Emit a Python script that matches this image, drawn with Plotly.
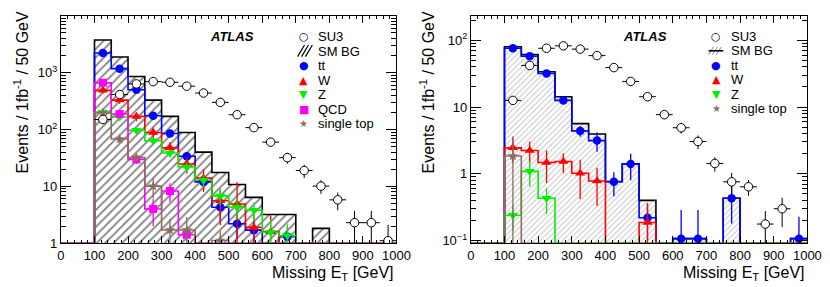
import numpy as np
import plotly.graph_objects as go

# ---------------- data (50 GeV bins, 0-1000 GeV) ----------------
bin_edges = list(range(0, 1001, 50))
x_ticks = list(range(0, 1001, 100))

# Left panel
left_smbg = [0, 0, 3750, 1890, 858, 329, 170, 88.5, 40, 17.6, 10.8, 6.4, 3.2, 3.2, 0, 1.83, 0, 0, 0, 0]
left_tt = [0, 0, 2210, 1175, 500, 175, 85, 33.8, 12, 4.3, 2.2, 1.7, 0, 1.3, 0, 0, 0, 0, 0, 0]
left_w = [0, 0, 488, 329, 170, 88.5, 47.6, 24.7, 14, 5.6, 4.9, 1.9, 1.6, 0, 0, 0, 0, 0, 0, 0]
left_z = [0, 0, 202, 166, 97, 63.5, 38.7, 22, 12.8, 6.8, 4.3, 3.8, 1.56, 1.35, 0, 0, 0, 0, 0, 0]
left_qcd = [0, 0, 661, 187, 29.7, 4.0, 8.3, 1.41, 0, 0, 0, 0, 0, 0, 0, 0, 0, 0, 0, 0]
left_st = [0, 0, 195, 68, 32, 10.1, 1.71, 1.71, 0, 1.12, 0, 0, 0, 0, 0, 0, 0, 0, 0, 0]
left_su3 = [0, 0, 150, 412, 634, 696, 677, 578, 438, 300, 182, 108, 60, 32, 19, 10.1, 5.8, 2.3, 2.3, 1.11]

left_tt_err = [0, 0, 45, 33, 22, 13, 9, 5.5, 3.3, 1.9, 1.0, 0.8, 0, 0.6, 0, 0, 0, 0, 0, 0]
left_w_err = [0, 0, 60, 45, 30, 20, 13, 8, 6, 3.5, 7, 1.5, 1.5, 0, 0, 0, 0, 0, 0, 0]
left_z_err = [0, 0, 14, 13, 10, 8, 6, 4.5, 3, 2.2, 1.7, 1.4, 1.0, 0.8, 0, 0, 0, 0, 0, 0]
left_qcd_err = [0, 0, 60, 28, 5, 2, 3, 0.5, 0, 0, 0, 0, 0, 0, 0, 0, 0, 0, 0, 0]
left_st_err = [0, 0, 20, 10, 5, 4, 1, 1.2, 0, 0.5, 0, 0, 0, 0, 0, 0, 0, 0, 0, 0]
left_su3_err = [0, 0, 11, 18, 22, 23, 23, 21, 19, 17, 15, 12, 9, 7, 5, 2.7, 2, 1.4, 1.4, 1.0]

# Right panel
right_smbg = [0, 0, 79.9, 61, 33.8, 14.3, 5.65, 3.95, 0.77, 1.42, 0.40, 0, 0.107, 0.107, 0, 0.43, 0, 0, 0, 0.107]
right_tt = [0, 0, 76, 57.7, 31.9, 12.6, 4.4, 3.15, 0.76, 1.4, 0.22, 0, 0.107, 0.107, 0, 0.43, 0, 0, 0, 0.107]
right_w = [0, 0, 2.45, 2.24, 1.48, 1.53, 1.02, 0.78, 0, 0, 0.187, 0, 0, 0, 0, 0, 0, 0, 0, 0]
right_z = [0, 0, 0.24, 1.09, 0.43, 0, 0, 0, 0, 0, 0, 0, 0, 0, 0, 0, 0, 0, 0, 0]
right_st = [0, 0, 1.85, 0, 0, 0, 0, 0, 0, 0, 0, 0, 0, 0, 0, 0, 0, 0, 0, 0]
right_su3 = [0, 0, 12.6, 42, 76, 82.6, 73.8, 59, 39, 24.2, 14.3, 7.7, 4.9, 3.05, 1.43, 0.76, 0.64, 0.177, 0.30, 0]

right_tt_err = [0, 0, 3.5, 3, 2.2, 1.4, 0.8, 1.0, 0.3, 0.6, 0.12, 0, 0.18, 0.18, 0, 0.25, 0, 0, 0, 0.12]
right_w_err = [0, 0, 1.0, 0.8, 0.75, 0.5, 0.6, 0.45, 0, 0, 0.18, 0, 0, 0, 0, 0, 0, 0, 0, 0]
right_z_err = [0, 0, 0.1, 0.45, 0.18, 0, 0, 0, 0, 0, 0, 0, 0, 0, 0, 0, 0, 0, 0, 0]
right_st_err = [0, 0, 1.8, 0, 0, 0, 0, 0, 0, 0, 0, 0, 0, 0, 0, 0, 0, 0, 0, 0]
right_su3_err = [0, 0, 1.5, 2.6, 3.5, 3.6, 3.4, 3.0, 2.5, 2.0, 1.5, 1.1, 0.9, 0.7, 0.35, 0.27, 0.17, 0.1, 0.14, 0]

left_ytickvals = [1, 10, 100, 1000, 10000]
left_yticktext = ["1", "10", "10<sup>2</sup>", "10<sup>3</sup>", "10<sup>4</sup>"]
right_ytickvals = [0.1, 1, 10, 100]
right_yticktext = ["10<sup>\u22121</sup>", "1", "10", "10<sup>2</sup>"]

# ---------------- styling ----------------
W, H = 830, 287
BLUE, RED, GREEN, MAGENTA, BROWN = "#0000ff", "#ff0000", "#00ee00", "#ff00ff", "#8b6f5e"
FONT = "Liberation Sans, Arial, sans-serif"

edges = np.array(bin_edges, dtype=float)
centers = (edges[:-1] + edges[1:]) / 2.0


def px(x):
    return x / W


def py(y):
    return 1 - y / H


fig = go.Figure()


def add_panel(xa, ya, ymin, smbg, species, su3, su3_err, hatch):
    xr, yr = xa, ya
    # hatched SM background
    fig.add_trace(go.Bar(
        x=centers, y=smbg, width=50, xaxis=xr, yaxis=yr,
        marker=dict(color="white", line=dict(width=0),
                    pattern=dict(shape="/", fgcolor=hatch["color"], bgcolor="white",
                                 size=hatch["size"], solidity=hatch["solidity"])),
        showlegend=False, hoverinfo="skip"))
    # SM step outline
    vals = np.maximum(np.array(smbg, float), ymin)
    fig.add_trace(go.Scatter(x=edges, y=np.append(vals, vals[-1]), mode="lines",
                             line=dict(color="black", width=1.6, shape="hv"),
                             xaxis=xr, yaxis=yr, showlegend=False, hoverinfo="skip"))
    # species step lines
    for vals_s, err_s, color, sym, msize in species:
        v = np.maximum(np.array(vals_s, float), ymin)
        fig.add_trace(go.Scatter(x=edges, y=np.append(v, v[-1]), mode="lines",
                                 line=dict(color=color, width=1.6, shape="hv"),
                                 xaxis=xr, yaxis=yr, showlegend=False, hoverinfo="skip"))
    # species markers
    for vals_s, err_s, color, sym, msize in species:
        a = np.array(vals_s, float)
        e = np.array(err_s, float)
        m = a > 0
        fig.add_trace(go.Scatter(x=centers[m], y=a[m], mode="markers",
                                 marker=dict(color=color, symbol=sym, size=msize, line=dict(width=0)),
                                 error_y=dict(type="data", array=e[m], color=color, thickness=1.3, width=0),
                                 xaxis=xr, yaxis=yr, showlegend=False, hoverinfo="skip"))
    # SU3 signal
    a = np.array(su3, float)
    e = np.array(su3_err, float)
    m = a > 0
    fig.add_trace(go.Scatter(x=centers[m], y=a[m], mode="markers",
                             marker=dict(color="white", symbol="circle", size=8.5,
                                         line=dict(color="black", width=1)),
                             error_y=dict(type="data", array=e[m], color="black", thickness=1, width=0),
                             error_x=dict(type="constant", value=25, color="black", thickness=1, width=0),
                             xaxis=xr, yaxis=yr, showlegend=False, hoverinfo="skip"))


left_species = [
    (left_tt, left_tt_err, BLUE, "circle", 8.5),
    (left_w, left_w_err, RED, "triangle-up", 9),
    (left_z, left_z_err, GREEN, "triangle-down", 9),
    (left_qcd, left_qcd_err, MAGENTA, "square", 8),
    (left_st, left_st_err, BROWN, "star", 8),
]
right_species = [
    (right_tt, right_tt_err, BLUE, "circle", 8.5),
    (right_w, right_w_err, RED, "triangle-up", 9),
    (right_z, right_z_err, GREEN, "triangle-down", 9),
    (right_st, right_st_err, BROWN, "star", 8),
]

L_YMIN = 1.0
R_YMIN = 0.0913
add_panel("x", "y", L_YMIN, left_smbg, left_species, left_su3, left_su3_err,
          dict(color="black", size=6, solidity=0.3))
add_panel("x2", "y2", R_YMIN, right_smbg, right_species, right_su3, right_su3_err,
          dict(color="#8a8a8a", size=4, solidity=0.25))

ydom = [py(242), py(8)]
xdom_l = [px(50), px(393)]
xdom_r = [px(469), px(813)]


def xaxis_cfg(domain, anchor):
    return dict(domain=domain, anchor=anchor, range=[0, 1000], tickmode="array", tickvals=x_ticks,
                ticks="inside", ticklen=7, tickwidth=1, tickcolor="black", mirror="allticks",
                showline=True, linecolor="black", linewidth=1, showgrid=False, zeroline=False,
                tickfont=dict(family=FONT, size=13, color="black"),
                minor=dict(dtick=20, tick0=0, ticks="inside", ticklen=3.5, tickcolor="black", showgrid=False))


def minor_log(lo, hi):
    vals = []
    for d in range(lo, hi):
        for k in range(2, 10):
            vals.append(k * 10.0 ** d)
    return vals


def yaxis_cfg(domain, anchor, rng, tv, tt, mlo, mhi):
    return dict(domain=domain, anchor=anchor, type="log", range=rng, tickmode="array",
                tickvals=tv, ticktext=tt, ticks="inside", ticklen=10, tickwidth=1, tickcolor="black",
                mirror="allticks", showline=True, linecolor="black", linewidth=1, showgrid=False,
                zeroline=False, tickfont=dict(family=FONT, size=13, color="black"),
                minor=dict(tickvals=minor_log(mlo, mhi), ticks="inside", ticklen=5, tickcolor="black",
                           showgrid=False))


fig.update_layout(
    width=W, height=H, margin=dict(l=0, r=0, t=0, b=0),
    paper_bgcolor="white", plot_bgcolor="white", bargap=0, barmode="overlay",
    showlegend=False,
    xaxis=xaxis_cfg(xdom_l, "y"),
    yaxis=yaxis_cfg(ydom, "x", [0, 4], left_ytickvals, left_yticktext, 0, 4),
    xaxis2=xaxis_cfg(xdom_r, "y2"),
    yaxis2=yaxis_cfg(ydom, "x2", [np.log10(R_YMIN), np.log10(233)], right_ytickvals, right_yticktext, -2, 3),
)

ann = []
# axis titles
for xr in (393, 813):
    ann.append(dict(text="Missing E<sub>T</sub> [GeV]", x=px(xr), y=py(273), xref="paper", yref="paper",
                    xanchor="right", yanchor="middle", showarrow=False,
                    font=dict(family=FONT, size=16, color="black")))
for xc in (9, 424):
    ann.append(dict(text="Events / 1fb<sup>-1</sup> / 50 GeV", x=px(xc), y=py(87), xref="paper",
                    yref="paper", xanchor="center", yanchor="middle", textangle=-90, showarrow=False,
                    font=dict(family=FONT, size=16, color="black")))
# ATLAS labels
for xl in (200, 623):
    ann.append(dict(text="<b><i>ATLAS</i></b>", x=px(xl), y=py(29), xref="paper", yref="paper",
                    xanchor="left", yanchor="middle", showarrow=False,
                    font=dict(family=FONT, size=13, color="black")))

# legends (text + symbol glyphs)
left_leg = [("\u25CB", "black", "SU3"), (None, None, "SM BG"), ("\u25CF", BLUE, "tt"),
            ("\u25B2", RED, "W"), ("\u25BC", GREEN, "Z"), ("\u25A0", MAGENTA, "QCD"),
            ("\u2605", BROWN, "single top")]
right_leg = [("\u25CB", "black", "SU3"), (None, None, "SM BG"), ("\u25CF", BLUE, "tt"),
             ("\u25B2", RED, "W"), ("\u25BC", GREEN, "Z"), ("\u2605", BROWN, "single top")]


def add_legend(entries, xm, xt, y0, dy):
    for i, (g, c, t) in enumerate(entries):
        yy = y0 + i * dy
        if g is not None:
            ann.append(dict(text=g, x=px(xm), y=py(yy), xref="paper", yref="paper", xanchor="center",
                            yanchor="middle", showarrow=False, borderpad=0,
                            font=dict(family="DejaVu Sans", size=11 if g != "\u2605" else 10, color=c)))
        ann.append(dict(text=t, x=px(xt), y=py(yy), xref="paper", yref="paper", xanchor="left",
                        yanchor="middle", showarrow=False, borderpad=0,
                        font=dict(family=FONT, size=13, color="black")))


add_legend(left_leg, 298, 312, 29.3, 15.0)
add_legend(right_leg, 720, 734, 29.3, 14.8)

shapes = []
# left SM BG legend hatch icon
for x0 in (292, 296, 300):
    shapes.append(dict(type="line", xref="paper", yref="paper", x0=px(x0), y0=py(50), x1=px(x0 + 7),
                       y1=py(38), line=dict(color="black", width=1.2)))
# right SM BG legend icon: gray hatch + black line
for x0 in (712, 716, 720):
    shapes.append(dict(type="line", xref="paper", yref="paper", x0=px(x0), y0=py(48), x1=px(x0 + 5),
                       y1=py(40), line=dict(color="#8a8a8a", width=1)))
shapes.append(dict(type="line", xref="paper", yref="paper", x0=px(712), y0=py(44), x1=px(727),
                   y1=py(44), line=dict(color="black", width=1.6)))

fig.update_layout(annotations=ann, shapes=shapes)
fig.write_html("out.html")
